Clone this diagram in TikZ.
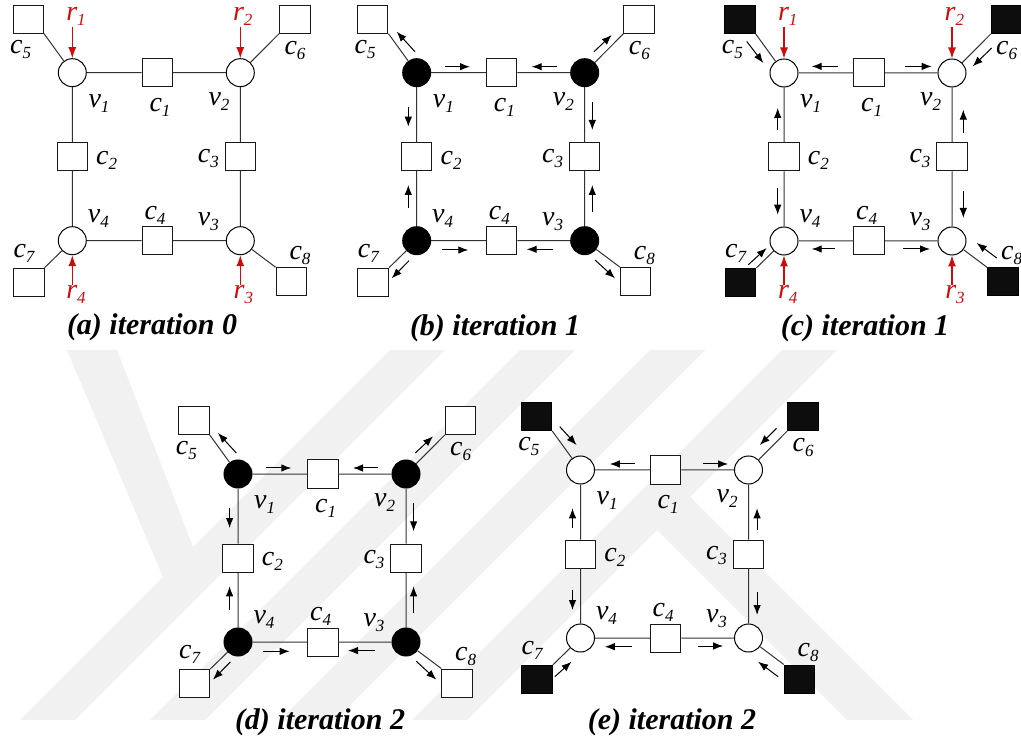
\documentclass[tikz,border=0pt]{standalone}
\usepackage{fontspec}
\setmainfont{Liberation Serif}
\usetikzlibrary{arrows.meta}
\definecolor{reqred}{RGB}{210,10,10}
\definecolor{wmgray}{RGB}{241,241,241}
\newcommand\labfont{\fontsize{28}{28}\selectfont\itshape}
\newcommand\capfont{\fontsize{30}{30}\selectfont\bfseries\itshape}
\newcommand\lb[2]{#1\raisebox{-5pt}{\fontsize{17}{17}\selectfont #2}}

% one factor graph: four variable nodes, eight check boxes, their edges and labels
\newcommand\drawpanel[4]{%
\begin{scope}[shift={#2}]
 \node[#3] (#1v1) at (0,0) {};
 \node[#3] (#1v2) at (168,0) {};
 \node[#3] (#1v3) at (168,168) {};
 \node[#3] (#1v4) at (0,168) {};
 \node[fbox] (#1c1) at (85,0) {};
 \node[fbox] (#1c2) at (0,84) {};
 \node[fbox] (#1c3) at (168,84) {};
 \node[fbox] (#1c4) at (85,168) {};
 \node[#4] (#1c5) at (-44,-53.5) {};
 \node[#4] (#1c6) at (222.5,-53.5) {};
 \node[#4] (#1c7) at (-43.5,209.5) {};
 \node[#4] (#1c8) at (219,209) {};
 \draw[edge] (#1v1) -- (#1c1) (#1c1) -- (#1v2)
             (#1v1) -- (#1c2) (#1c2) -- (#1v4)
             (#1v2) -- (#1c3) (#1c3) -- (#1v3)
             (#1v4) -- (#1c4) (#1c4) -- (#1v3)
             (#1c5.south east) -- (#1v1)
             (#1c6.south west) -- (#1v2)
             (#1c7.north east) -- (#1v4)
             (#1c8.north west) -- (#1v3);
 \node[lab] (#1lv1) at (26.7,30.6) {\lb{v}{1}};
 \node[lab] (#1lv2) at (146.7,29) {\lb{v}{2}};
 \node[lab] (#1lv3) at (136,149) {\lb{v}{3}};
 \node[lab] (#1lv4) at (26,145.6) {\lb{v}{4}};
 \node[lab] (#1lc1) at (87.7,34.6) {\lb{c}{1}};
 \node[lab] (#1lc2) at (34.4,87.3) {\lb{c}{2}};
 \node[lab] (#1lc3) at (136,85.6) {\lb{c}{3}};
 \node[lab] (#1lc4) at (82.7,142.3) {\lb{c}{4}};
 \node[lab] (#1lc5) at (-51.6,-23.7) {\lb{c}{5}};
 \node[lab] (#1lc6) at (222.7,-22.7) {\lb{c}{6}};
 \node[lab] (#1lc7) at (-48.3,180.6) {\lb{c}{7}};
 \node[lab] (#1lc8) at (227.7,182.3) {\lb{c}{8}};
\end{scope}}

% the four red requests entering the variable nodes
\newcommand\requests[2]{%
\begin{scope}[shift={#2}]
 \node[lab, text=reqred] (#1r1) at (3.7,-56.5) {\lb{r}{1}};
 \node[lab, text=reqred] (#1r2) at (170.4,-56.5) {\lb{r}{2}};
 \node[lab, text=reqred] (#1r3) at (171,221.3) {\lb{r}{3}};
 \node[lab, text=reqred] (#1r4) at (3.7,221.3) {\lb{r}{4}};
 \coordinate (#1s1) at (0,-46);
 \coordinate (#1s2) at (168,-46);
 \coordinate (#1s3) at (168,212);
 \coordinate (#1s4) at (0,212);
 \draw[req] (#1s1) -- (#1v1);
 \draw[req] (#1s2) -- (#1v2);
 \draw[req] (#1s3) -- (#1v3);
 \draw[req] (#1s4) -- (#1v4);
\end{scope}}

% messages from variables to checks
\newcommand\outflow[1]{%
\begin{scope}[shift={#1}]
 \draw[flow] (28.3,-6) -- (53.3,-6);
 \draw[flow] (140,-6) -- (115,-6);
 \draw[flow] (-8.4,34) -- (-8.4,54);
 \draw[flow] (-8.4,135.6) -- (-8.4,112.3);
 \draw[flow] (175.6,29) -- (175.6,57.3);
 \draw[flow] (175.6,139) -- (175.6,112.3);
 \draw[flow] (25,177.3) -- (51.6,177.3);
 \draw[flow] (136.6,176.6) -- (110,176.6);
 \draw[flow] (-1.7,-21) -- (-20,-41);
 \draw[flow] (177.3,-21) -- (195,-37.7);
 \draw[flow] (-7.7,188) -- (-25,205.6);
 \draw[flow] (178.3,187.3) -- (198.3,205.6);
\end{scope}}

\begin{document}
\begin{tikzpicture}[x=1pt,y=-1pt,
  vtx/.style={circle, draw=black, line width=1pt, minimum size=28pt, inner sep=0pt, fill=white},
  vfull/.style={vtx, fill=black},
  fbox/.style={rectangle, draw=black!90, line width=1pt, minimum width=30.5pt, minimum height=28pt, inner sep=0pt, fill=white},
  fblack/.style={fbox, draw=black, fill=black!95},
  edge/.style={draw=black!80, line width=1pt},
  flow/.style={-{Latex[length=10pt,width=7.5pt]}, line width=1pt, black},
  req/.style={-{Latex[length=11pt,width=8pt]}, line width=1.1pt, draw=reqred, fill=reqred},
  lab/.style={font=\labfont, inner sep=0pt},
  caption text/.style={font=\capfont, inner sep=0pt}]
\useasboundingbox (0,0) rectangle (1021,743);
\fill[white] (0,0) rectangle (1021,743);

% faint background stripes
\fill[wmgray] (390,350) -- (445,350) -- (75,720) -- (20,720) -- cycle;
\fill[wmgray] (520,350) -- (575,350) -- (205,720) -- (150,720) -- cycle;
\fill[wmgray] (650,350) -- (705,350) -- (335,720) -- (280,720) -- cycle;
\fill[wmgray] (782,350) -- (837,350) -- (467,720) -- (412,720) -- cycle;
\fill[wmgray] (67,350) -- (117,350) -- (193,547) -- (163,577) -- cycle;
\fill[wmgray] (657,530) -- (690,497) -- (913,720) -- (847,720) -- cycle;

% (a) iteration 0
\drawpanel{a-}{(72.3,72.7)}{vtx}{fbox}
\requests{a-}{(72.3,72.7)}
\node[caption text] (capa) at (152,327) {(a) iteration 0};

% (b) iteration 1
\drawpanel{b-}{(416.7,72.7)}{vfull}{fbox}
\outflow{(416.7,72.7)}
\node[caption text] (capb) at (495,328) {(b) iteration 1};

% (c) iteration 1
\drawpanel{c-}{(784,73)}{vtx}{fblack}
\requests{c-}{(784,73)}
\begin{scope}[shift={(784,73)}]
 \draw[flow] (54.3,-6.6) -- (27.7,-6.6);
 \draw[flow] (121,-6.6) -- (147.7,-6.6);
 \draw[flow] (-6.3,56.7) -- (-6.3,35);
 \draw[flow] (-6.3,115) -- (-6.3,141.7);
 \draw[flow] (179.3,60) -- (179.3,36.7);
 \draw[flow] (179.3,118.4) -- (179.3,145);
 \draw[flow] (51,176) -- (27.7,176);
 \draw[flow] (119.3,176) -- (146,176);
 \draw[flow] (-37.3,-31.6) -- (-20.7,-10);
 \draw[flow] (207.7,-25) -- (188.7,-6.6);
 \draw[flow] (-35.7,191.7) -- (-17.3,175);
 \draw[flow] (212.7,185) -- (192.7,170);
\end{scope}
\node[caption text] (capc) at (865,328) {(c) iteration 1};

% (d) iteration 2
\drawpanel{d-}{(238,474)}{vfull}{fbox}
\outflow{(238,474)}
\node[caption text] (capd) at (320,722) {(d) iteration 2};

% (e) iteration 2
\drawpanel{e-}{(580.5,470)}{vtx}{fblack}
\begin{scope}[shift={(580.5,470)}]
 \draw[flow] (54.3,-6) -- (29.3,-6);
 \draw[flow] (122.6,-6) -- (147.6,-6);
 \draw[flow] (-8,58.3) -- (-8,38.3);
 \draw[flow] (-8,120) -- (-8,140);
 \draw[flow] (176.6,60) -- (176.6,38.3);
 \draw[flow] (176.6,121.7) -- (176.6,145);
 \draw[flow] (51,176.7) -- (24.3,176.7);
 \draw[flow] (117.6,176) -- (142.6,176);
 \draw[flow] (-20.7,-43.3) -- (-4,-25);
 \draw[flow] (196,-41.7) -- (179.3,-25);
 \draw[flow] (-25.7,206.7) -- (-9,191.7);
 \draw[flow] (197.6,206.7) -- (177.6,191.7);
\end{scope}
\node[caption text] (cape) at (672,722) {(e) iteration 2};
\end{tikzpicture}
\end{document}
